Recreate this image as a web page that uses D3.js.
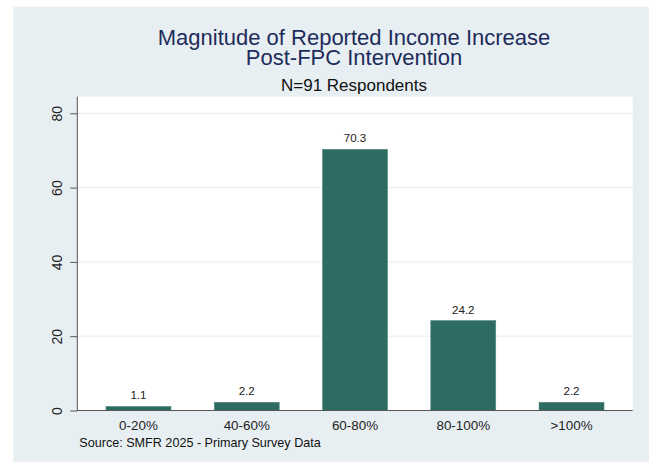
<!DOCTYPE html>
<html>
<head>
<meta charset="utf-8">
<script src="https://cdn.jsdelivr.net/npm/d3@7"></script>
<style>
  body { margin: 0; background: #fff; }
  text { font-family: "Liberation Sans", Arial, sans-serif; }
</style>
</head>
<body>
<div id="chart"></div>
<script>
  var categories = ["0-20%", "40-60%", "60-80%", "80-100%", ">100%"];
  var percents = [1.1, 2.2, 70.3, 24.2, 2.2];
  var yTicks = [0, 20, 40, 60, 80];

  var W = 654, H = 464;
  var plot = { left: 77.3, right: 632.7, top: 96.7, bottom: 410.5 };

  var svg = d3.select("#chart").append("svg")
    .attr("width", W)
    .attr("height", H);

  // graph region (light bluish grey)
  svg.append("rect")
    .attr("x", 13.3).attr("y", 6.7)
    .attr("width", 649 - 13.3).attr("height", 462 - 6.7)
    .attr("fill", "#e8eff2");

  // plot region
  svg.append("rect")
    .attr("x", plot.left).attr("y", plot.top)
    .attr("width", plot.right - plot.left).attr("height", plot.bottom - plot.top)
    .attr("fill", "#ffffff");

  var x = d3.scaleBand()
    .domain(categories)
    .range([plot.left, plot.right])
    .paddingInner(0.4)
    .paddingOuter(0.265);

  var y = d3.scaleLinear()
    .domain([0, 80])
    .range([plot.bottom, 113.3]);

  // gridlines
  svg.append("g")
    .selectAll("line")
    .data(yTicks.filter(function (d) { return d > 0; }))
    .enter().append("line")
    .attr("x1", plot.left).attr("x2", plot.right)
    .attr("y1", function (d) { return y(d); })
    .attr("y2", function (d) { return y(d); })
    .attr("stroke", "#e6eef1")
    .attr("stroke-width", 1);

  // bars
  svg.append("g")
    .selectAll("rect")
    .data(percents)
    .enter().append("rect")
    .attr("x", function (d, i) { return x(categories[i]); })
    .attr("width", x.bandwidth())
    .attr("y", function (d) { return y(d); })
    .attr("height", function (d) { return y(0) - y(d); })
    .attr("fill", "#2e6b62")
    .attr("stroke", "#4f8a80")
    .attr("stroke-width", 0.6);

  // bar value labels
  svg.append("g")
    .selectAll("text")
    .data(percents)
    .enter().append("text")
    .attr("x", function (d, i) { return x(categories[i]) + x.bandwidth() / 2; })
    .attr("y", function (d) { return y(d) - 7; })
    .attr("text-anchor", "middle")
    .attr("font-size", "11.6px")
    .attr("fill", "#222")
    .text(function (d) { return d.toFixed(1); });

  // y axis
  var yAxis = d3.axisLeft(y)
    .tickValues(yTicks)
    .tickSize(7)
    .tickPadding(0)
    .tickFormat(d3.format("d"));

  var gy = svg.append("g")
    .attr("transform", "translate(" + plot.left + ",0)")
    .call(yAxis);
  gy.select(".domain").remove();
  gy.append("line")
    .attr("x1", 0).attr("x2", 0)
    .attr("y1", plot.top).attr("y2", plot.bottom)
    .attr("stroke", "#555");
  gy.selectAll(".tick line").attr("stroke", "#555");
  gy.selectAll(".tick text")
    .attr("x", 0).attr("dy", null).attr("y", 0)
    .attr("text-anchor", "middle")
    .attr("transform", "translate(-15.5,0) rotate(-90)")
    .attr("font-size", "14px")
    .attr("font-family", "Liberation Sans, Arial, sans-serif")
    .attr("fill", "#222");

  // x axis
  var xAxis = d3.axisBottom(x).tickSize(0).tickPadding(0);
  var gx = svg.append("g")
    .attr("transform", "translate(0," + plot.bottom + ")")
    .call(xAxis);
  gx.select(".domain").remove();
  gx.append("line")
    .attr("x1", plot.left - 0.5).attr("x2", plot.right)
    .attr("y1", 0).attr("y2", 0)
    .attr("stroke", "#555");
  gx.selectAll(".tick text")
    .attr("y", 19.5).attr("dy", null)
    .attr("font-size", "13.4px")
    .attr("font-family", "Liberation Sans, Arial, sans-serif")
    .attr("fill", "#222");

  // titles
  var cx = 354;
  svg.append("text")
    .attr("x", cx).attr("y", 45)
    .attr("text-anchor", "middle")
    .attr("font-size", "22px")
    .attr("fill", "#1e2c5c")
    .text("Magnitude of Reported Income Increase");
  svg.append("text")
    .attr("x", cx).attr("y", 65)
    .attr("text-anchor", "middle")
    .attr("font-size", "22px")
    .attr("fill", "#1e2c5c")
    .text("Post-FPC Intervention");
  svg.append("text")
    .attr("x", cx).attr("y", 91)
    .attr("text-anchor", "middle")
    .attr("font-size", "17px")
    .attr("fill", "#111")
    .text("N=91 Respondents");

  // note
  svg.append("text")
    .attr("x", 79.3).attr("y", 446.5)
    .attr("font-size", "12.6px")
    .attr("fill", "#111")
    .text("Source: SMFR 2025 - Primary Survey Data");
</script>
</body>
</html>
